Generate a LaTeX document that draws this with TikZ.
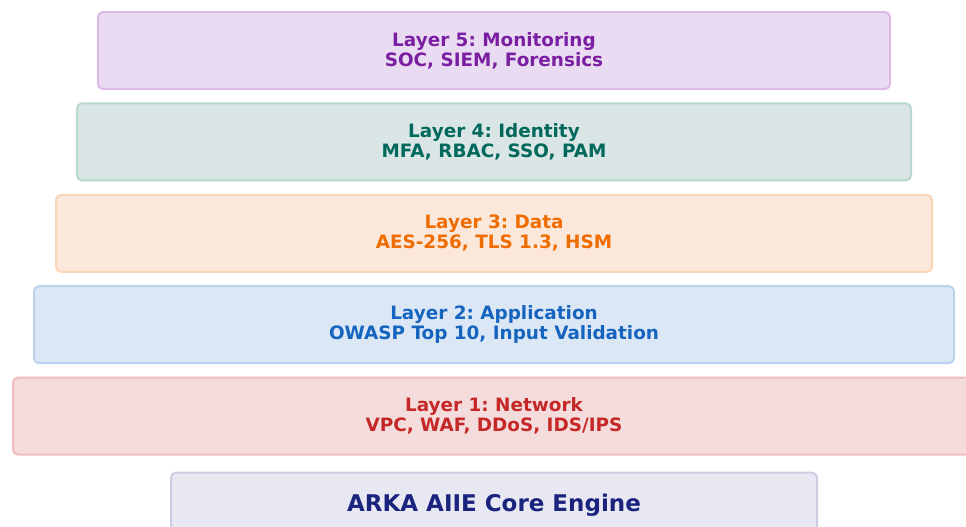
\documentclass[tikz,border=0pt]{standalone}
\usepackage{fontspec}
\setmainfont{DejaVu Sans}
\usepackage{tikz}
\usetikzlibrary{positioning}

\definecolor{monfill}{HTML}{E9DBF1}
\definecolor{mondraw}{HTML}{DCBCE6}
\definecolor{montext}{HTML}{7B1FA2}
\definecolor{idfill}{HTML}{D9E6E5}
\definecolor{iddraw}{HTML}{B8D7CF}
\definecolor{idtext}{HTML}{00695C}
\definecolor{datfill}{HTML}{FCE8DA}
\definecolor{datdraw}{HTML}{FAD5B8}
\definecolor{dattext}{HTML}{EF6C00}
\definecolor{appfill}{HTML}{DCE7F5}
\definecolor{appdraw}{HTML}{BBD2EF}
\definecolor{apptext}{HTML}{1565C0}
\definecolor{netfill}{HTML}{F5DCDC}
\definecolor{netdraw}{HTML}{F0BDBD}
\definecolor{nettext}{HTML}{C62828}
\definecolor{corefill}{HTML}{E8E8F3}
\definecolor{coredraw}{HTML}{CDCDE2}
\definecolor{coretext}{HTML}{1A237E}

\begin{document}
\frenchspacing
\begin{tikzpicture}[
    x=0.5pt, y=0.5pt,
    layer/.style={draw, line width=1pt, rounded corners=2.5pt, align=center,
      font=\fontsize{9.2}{10}\selectfont\bfseries, minimum height=38.5pt, inner sep=0pt},
    node distance=6.2pt
  ]
  \useasboundingbox (0,0) rectangle (966,-526);
  \node[layer, fill=monfill, draw=mondraw, text=montext, minimum width=396pt] (layer5) at (494,-50.5)
    {Layer 5: Monitoring\\SOC, SIEM, Forensics};
  \node[layer, fill=idfill, draw=iddraw, text=idtext, minimum width=417pt, below=of layer5] (layer4)
    {Layer 4: Identity\\MFA, RBAC, SSO, PAM};
  \node[layer, fill=datfill, draw=datdraw, text=dattext, minimum width=438pt, below=of layer4] (layer3)
    {Layer 3: Data\\AES-256, TLS 1.3, HSM};
  \node[layer, fill=appfill, draw=appdraw, text=apptext, minimum width=460pt, below=of layer3] (layer2)
    {Layer 2: Application\\OWASP Top 10, Input Validation};
  \node[layer, fill=netfill, draw=netdraw, text=nettext, minimum width=481pt, below=of layer2] (layer1)
    {Layer 1: Network\\VPC, WAF, DDoS, IDS/IPS};
  \node[layer, fill=corefill, draw=coredraw, text=coretext, minimum width=323pt, minimum height=33pt,
    font=\fontsize{11.5}{13}\selectfont\bfseries, below=8pt of layer1] (core)
    {ARKA AIIE Core Engine};
\end{tikzpicture}
\end{document}
